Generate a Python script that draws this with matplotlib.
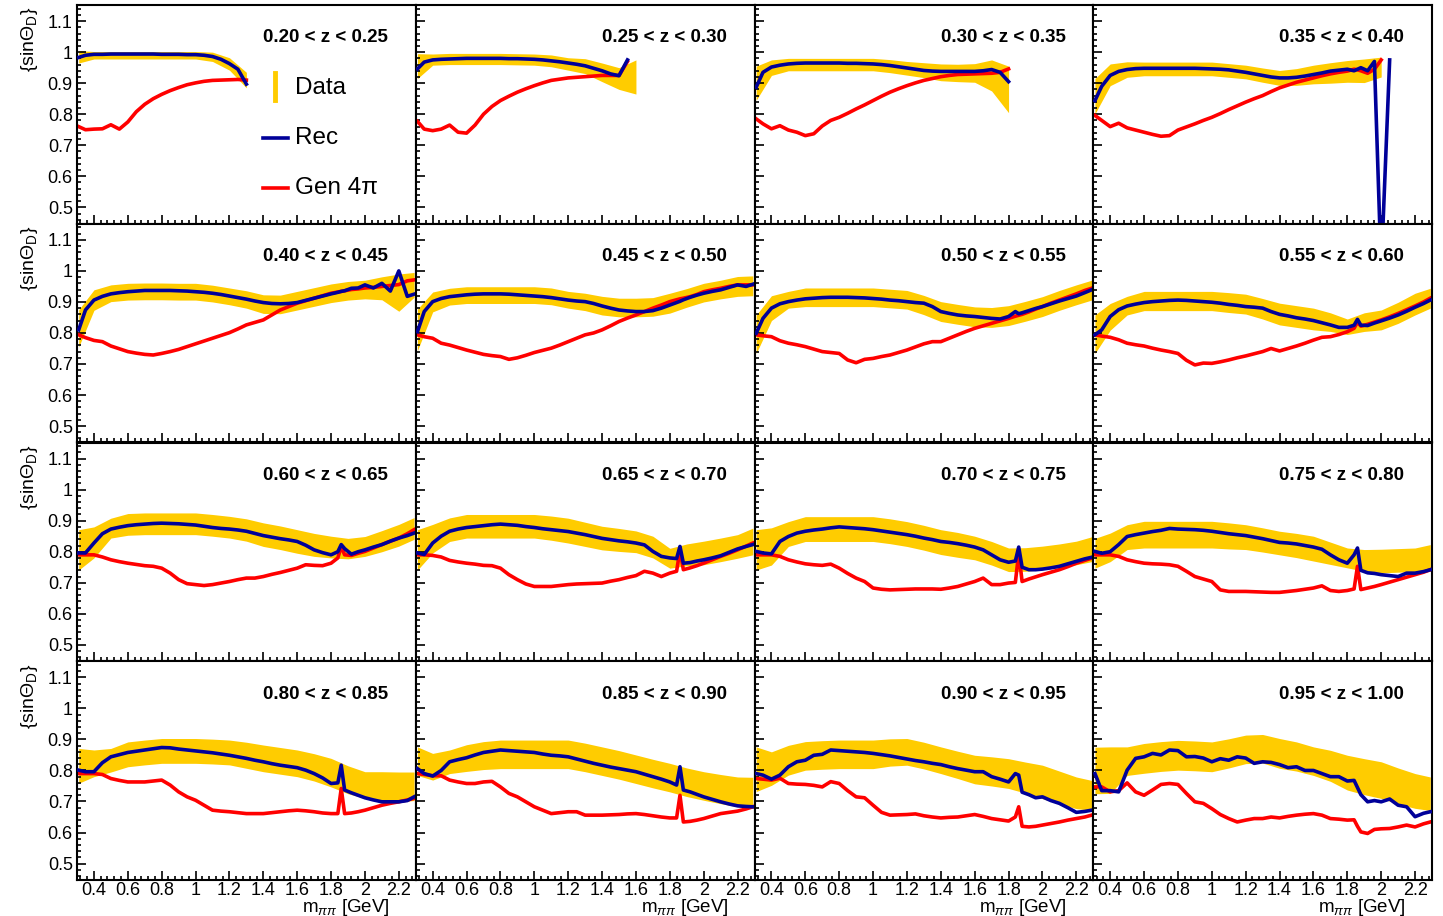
import matplotlib
import matplotlib.pyplot as plt
from matplotlib.ticker import FixedLocator, MultipleLocator, FuncFormatter

matplotlib.use('Agg')

nan = float('nan')

# z bin edges, one panel per bin
Z_EDGES = [0.20, 0.25, 0.30, 0.35, 0.40, 0.45, 0.50, 0.55, 0.60,
           0.65, 0.70, 0.75, 0.80, 0.85, 0.90, 0.95, 1.00]

# m_pipi points for the MC curves (GeV)
MASS = [0.31, 0.35, 0.40, 0.45, 0.50, 0.55, 0.60, 0.65, 0.70, 0.75, 0.80,
        0.85, 0.90, 0.95, 1.00, 1.05, 1.10, 1.15, 1.20, 1.25, 1.30, 1.35,
        1.40, 1.45, 1.50, 1.55, 1.60, 1.65, 1.70, 1.75, 1.80, 1.84, 1.86,
        1.88, 1.92, 1.96, 2.00, 2.05, 2.10, 2.15, 2.20, 2.25, 2.29]

# m_pipi points for the data band (GeV)
BAND_MASS = [0.31, 0.4, 0.5, 0.6, 0.7, 0.8, 0.9, 1.0, 1.1, 1.2, 1.3, 1.4,
             1.5, 1.6, 1.7, 1.8, 1.9, 2.0, 2.1, 2.2, 2.29]

# <sin theta_D> reconstructed MC, one row per z bin
REC = [
  [0.983, 0.990, 0.993, 0.993, 0.994, 0.994, 0.994, 0.994, 0.994, 0.994, 0.993, 0.993, 0.993, 0.992, 0.992, 0.990,
   0.986, 0.977, 0.963, 0.945, 0.897] + [nan] * 22,
  [0.946, 0.968, 0.975, 0.977, 0.978, 0.979, 0.980, 0.980, 0.980, 0.980, 0.980, 0.979, 0.979, 0.978, 0.977, 0.975,
   0.972, 0.969, 0.965, 0.961, 0.956, 0.948, 0.940, 0.930, 0.924, 0.975] + [nan] * 17,
  [0.887, 0.935, 0.952, 0.958, 0.962, 0.964, 0.965, 0.965, 0.965, 0.965, 0.965, 0.964, 0.964, 0.963, 0.962, 0.960,
   0.957, 0.953, 0.949, 0.945, 0.941, 0.939, 0.938, 0.938, 0.938, 0.938, 0.938, 0.940, 0.944, 0.935, 0.905] + [nan] * 12,
  [0.844, 0.890, 0.925, 0.938, 0.944, 0.947, 0.948, 0.948, 0.948, 0.948, 0.948, 0.948, 0.948, 0.947, 0.946, 0.945,
   0.943, 0.939, 0.935, 0.930, 0.925, 0.920, 0.917, 0.917, 0.919, 0.923, 0.928, 0.933, 0.939, 0.942, 0.945, 0.940,
   0.945, 0.950, 0.940, 0.970, 0.300, 0.975] + [nan] * 5,
  [0.810, 0.874, 0.906, 0.918, 0.926, 0.930, 0.933, 0.935, 0.937, 0.937, 0.937, 0.937, 0.936, 0.935, 0.933, 0.931,
   0.928, 0.924, 0.919, 0.914, 0.909, 0.903, 0.898, 0.895, 0.894, 0.895, 0.898, 0.905, 0.912, 0.919, 0.926, 0.931,
   0.934, 0.936, 0.944, 0.945, 0.955, 0.945, 0.960, 0.935, 1.000, 0.918, 0.925],
  [0.804, 0.869, 0.901, 0.911, 0.917, 0.920, 0.923, 0.925, 0.926, 0.926, 0.926, 0.925, 0.923, 0.921, 0.919, 0.917,
   0.914, 0.910, 0.906, 0.903, 0.901, 0.895, 0.887, 0.880, 0.874, 0.871, 0.869, 0.869, 0.872, 0.880, 0.890, 0.898,
   0.902, 0.907, 0.915, 0.922, 0.928, 0.934, 0.939, 0.947, 0.955, 0.950, 0.957],
  [0.799, 0.847, 0.880, 0.894, 0.901, 0.906, 0.910, 0.912, 0.914, 0.915, 0.915, 0.915, 0.914, 0.913, 0.911, 0.909,
   0.906, 0.904, 0.901, 0.898, 0.896, 0.885, 0.869, 0.863, 0.858, 0.855, 0.853, 0.850, 0.847, 0.845, 0.853, 0.869,
   0.862, 0.865, 0.872, 0.879, 0.885, 0.894, 0.903, 0.911, 0.919, 0.930, 0.939],
  [0.794, 0.810, 0.853, 0.875, 0.887, 0.893, 0.898, 0.901, 0.903, 0.905, 0.906, 0.905, 0.903, 0.901, 0.899, 0.896,
   0.892, 0.889, 0.885, 0.883, 0.880, 0.869, 0.860, 0.855, 0.849, 0.845, 0.840, 0.833, 0.826, 0.818, 0.818, 0.825,
   0.844, 0.825, 0.824, 0.832, 0.839, 0.848, 0.858, 0.870, 0.883, 0.895, 0.906],
  [0.796, 0.796, 0.828, 0.858, 0.873, 0.879, 0.884, 0.887, 0.889, 0.891, 0.892, 0.891, 0.890, 0.888, 0.886, 0.882,
   0.878, 0.875, 0.873, 0.870, 0.866, 0.859, 0.852, 0.847, 0.842, 0.838, 0.833, 0.821, 0.806, 0.797, 0.790, 0.800,
   0.823, 0.810, 0.792, 0.800, 0.806, 0.815, 0.823, 0.834, 0.844, 0.852, 0.860],
  [0.796, 0.791, 0.828, 0.850, 0.866, 0.873, 0.878, 0.881, 0.884, 0.887, 0.889, 0.887, 0.885, 0.881, 0.878, 0.874,
   0.871, 0.868, 0.865, 0.860, 0.855, 0.849, 0.843, 0.839, 0.835, 0.832, 0.828, 0.822, 0.801, 0.785, 0.780, 0.778,
   0.817, 0.763, 0.765, 0.770, 0.774, 0.780, 0.787, 0.798, 0.809, 0.817, 0.823],
  [0.801, 0.796, 0.793, 0.833, 0.849, 0.860, 0.866, 0.870, 0.873, 0.877, 0.880, 0.878, 0.876, 0.874, 0.871, 0.867,
   0.863, 0.859, 0.855, 0.850, 0.844, 0.839, 0.833, 0.830, 0.826, 0.821, 0.815, 0.806, 0.790, 0.774, 0.766, 0.770,
   0.815, 0.750, 0.742, 0.742, 0.744, 0.748, 0.753, 0.761, 0.769, 0.777, 0.782],
  [0.801, 0.795, 0.800, 0.823, 0.849, 0.855, 0.860, 0.865, 0.869, 0.875, 0.873, 0.872, 0.871, 0.869, 0.866, 0.862,
   0.858, 0.855, 0.852, 0.847, 0.842, 0.836, 0.830, 0.828, 0.825, 0.820, 0.815, 0.808, 0.790, 0.774, 0.763, 0.790,
   0.812, 0.740, 0.732, 0.730, 0.726, 0.723, 0.720, 0.731, 0.731, 0.736, 0.742],
  [0.801, 0.796, 0.796, 0.825, 0.844, 0.851, 0.858, 0.862, 0.866, 0.870, 0.874, 0.873, 0.869, 0.866, 0.863, 0.860,
   0.857, 0.853, 0.849, 0.844, 0.839, 0.833, 0.828, 0.822, 0.817, 0.813, 0.809, 0.801, 0.790, 0.776, 0.758, 0.760,
   0.817, 0.737, 0.728, 0.720, 0.712, 0.705, 0.699, 0.699, 0.699, 0.703, 0.715],
  [0.806, 0.790, 0.782, 0.800, 0.828, 0.835, 0.841, 0.850, 0.858, 0.862, 0.866, 0.864, 0.862, 0.860, 0.858, 0.853,
   0.849, 0.847, 0.844, 0.837, 0.830, 0.823, 0.817, 0.811, 0.806, 0.801, 0.796, 0.788, 0.780, 0.772, 0.763, 0.753,
   0.812, 0.737, 0.731, 0.723, 0.715, 0.707, 0.699, 0.692, 0.686, 0.684, 0.683],
  [0.790, 0.785, 0.772, 0.785, 0.812, 0.828, 0.833, 0.849, 0.852, 0.866, 0.864, 0.862, 0.860, 0.858, 0.855, 0.851,
   0.847, 0.842, 0.837, 0.832, 0.828, 0.823, 0.819, 0.812, 0.806, 0.801, 0.796, 0.796, 0.780, 0.772, 0.763, 0.790,
   0.785, 0.730, 0.722, 0.712, 0.715, 0.703, 0.694, 0.680, 0.665, 0.668, 0.672],
  [0.790, 0.735, 0.735, 0.731, 0.801, 0.839, 0.844, 0.855, 0.850, 0.866, 0.864, 0.844, 0.845, 0.840, 0.828, 0.838,
   0.833, 0.844, 0.840, 0.823, 0.828, 0.826, 0.819, 0.809, 0.812, 0.800, 0.800, 0.790, 0.780, 0.780, 0.766, 0.768,
   0.745, 0.722, 0.699, 0.703, 0.699, 0.708, 0.688, 0.683, 0.651, 0.662, 0.667],
]

# <sin theta_D> generated MC in 4pi, one row per z bin
GEN = [
  [0.760, 0.750, 0.752, 0.753, 0.766, 0.752, 0.775, 0.808, 0.832, 0.850, 0.864, 0.876, 0.886, 0.895, 0.901, 0.906,
   0.909, 0.910, 0.911, 0.912, 0.910] + [nan] * 22,
  [0.777, 0.752, 0.747, 0.752, 0.765, 0.742, 0.739, 0.765, 0.800, 0.825, 0.844, 0.858, 0.871, 0.882, 0.892, 0.901,
   0.909, 0.913, 0.917, 0.919, 0.921, 0.923, 0.925, 0.925, 0.925, 0.970] + [nan] * 17,
  [0.785, 0.769, 0.753, 0.763, 0.749, 0.742, 0.731, 0.737, 0.762, 0.780, 0.790, 0.803, 0.817, 0.830, 0.844, 0.858,
   0.871, 0.882, 0.892, 0.901, 0.909, 0.915, 0.921, 0.925, 0.928, 0.929, 0.930, 0.931, 0.932, 0.935, 0.946] + [nan] * 12,
  [0.796, 0.780, 0.760, 0.771, 0.756, 0.749, 0.742, 0.735, 0.729, 0.731, 0.749, 0.759, 0.769, 0.780, 0.790, 0.802,
   0.815, 0.827, 0.839, 0.850, 0.860, 0.873, 0.885, 0.894, 0.903, 0.910, 0.917, 0.924, 0.930, 0.935, 0.939, 0.945,
   0.943, 0.940, 0.932, 0.945, 0.975] + [nan] * 6,
  [0.794, 0.785, 0.776, 0.772, 0.758, 0.749, 0.740, 0.735, 0.731, 0.729, 0.734, 0.740, 0.747, 0.756, 0.765, 0.774,
   0.783, 0.792, 0.801, 0.813, 0.826, 0.834, 0.842, 0.858, 0.874, 0.885, 0.896, 0.904, 0.912, 0.920, 0.928, 0.932,
   0.934, 0.936, 0.940, 0.942, 0.945, 0.947, 0.950, 0.953, 0.956, 0.968, 0.971],
  [0.794, 0.788, 0.783, 0.767, 0.761, 0.753, 0.745, 0.738, 0.731, 0.727, 0.724, 0.715, 0.720, 0.728, 0.737, 0.744,
   0.751, 0.761, 0.772, 0.783, 0.794, 0.800, 0.810, 0.823, 0.837, 0.848, 0.858, 0.869, 0.880, 0.890, 0.901, 0.907,
   0.910, 0.912, 0.917, 0.924, 0.933, 0.939, 0.944, 0.950, 0.955, 0.955, 0.955],
  [0.794, 0.791, 0.788, 0.775, 0.767, 0.762, 0.756, 0.748, 0.740, 0.737, 0.734, 0.713, 0.704, 0.715, 0.718, 0.724,
   0.729, 0.737, 0.745, 0.755, 0.765, 0.772, 0.772, 0.783, 0.794, 0.805, 0.815, 0.823, 0.831, 0.839, 0.847, 0.854,
   0.857, 0.860, 0.868, 0.877, 0.885, 0.896, 0.906, 0.916, 0.926, 0.937, 0.944],
  [0.794, 0.790, 0.786, 0.778, 0.767, 0.762, 0.758, 0.751, 0.745, 0.740, 0.734, 0.712, 0.697, 0.703, 0.702, 0.707,
   0.713, 0.720, 0.726, 0.733, 0.740, 0.750, 0.742, 0.750, 0.758, 0.767, 0.777, 0.786, 0.788, 0.795, 0.804, 0.815,
   0.835, 0.822, 0.828, 0.835, 0.842, 0.852, 0.863, 0.875, 0.887, 0.900, 0.912],
  [0.790, 0.790, 0.790, 0.783, 0.774, 0.768, 0.763, 0.759, 0.755, 0.753, 0.747, 0.731, 0.710, 0.697, 0.694, 0.691,
   0.694, 0.699, 0.704, 0.710, 0.715, 0.715, 0.720, 0.727, 0.733, 0.740, 0.747, 0.758, 0.756, 0.755, 0.763, 0.780,
   0.817, 0.790, 0.788, 0.795, 0.801, 0.812, 0.823, 0.834, 0.844, 0.858, 0.871],
  [0.790, 0.790, 0.788, 0.783, 0.772, 0.767, 0.763, 0.760, 0.756, 0.755, 0.747, 0.726, 0.710, 0.696, 0.688, 0.688,
   0.688, 0.691, 0.694, 0.696, 0.697, 0.698, 0.699, 0.705, 0.710, 0.717, 0.723, 0.737, 0.731, 0.720, 0.731, 0.737,
   0.806, 0.742, 0.748, 0.755, 0.763, 0.774, 0.785, 0.795, 0.806, 0.818, 0.828],
  [0.790, 0.790, 0.790, 0.785, 0.774, 0.767, 0.761, 0.758, 0.756, 0.760, 0.747, 0.730, 0.715, 0.704, 0.683, 0.679,
   0.677, 0.678, 0.679, 0.680, 0.680, 0.680, 0.679, 0.683, 0.688, 0.696, 0.704, 0.715, 0.694, 0.694, 0.699, 0.701,
   0.796, 0.704, 0.712, 0.719, 0.726, 0.734, 0.742, 0.752, 0.763, 0.772, 0.779],
  [0.790, 0.790, 0.790, 0.785, 0.774, 0.768, 0.763, 0.761, 0.760, 0.758, 0.753, 0.737, 0.720, 0.712, 0.704, 0.677,
   0.672, 0.672, 0.672, 0.671, 0.670, 0.669, 0.669, 0.672, 0.675, 0.679, 0.683, 0.690, 0.675, 0.672, 0.675, 0.680,
   0.753, 0.678, 0.683, 0.688, 0.694, 0.702, 0.710, 0.718, 0.726, 0.734, 0.742],
  [0.790, 0.790, 0.790, 0.787, 0.774, 0.768, 0.763, 0.763, 0.763, 0.766, 0.769, 0.753, 0.731, 0.715, 0.704, 0.688,
   0.672, 0.669, 0.667, 0.664, 0.661, 0.661, 0.661, 0.664, 0.667, 0.670, 0.672, 0.670, 0.667, 0.663, 0.661, 0.661,
   0.742, 0.661, 0.663, 0.667, 0.672, 0.680, 0.688, 0.694, 0.699, 0.705, 0.710],
  [0.790, 0.787, 0.783, 0.783, 0.769, 0.763, 0.758, 0.758, 0.763, 0.765, 0.747, 0.726, 0.715, 0.699, 0.683, 0.672,
   0.661, 0.664, 0.667, 0.667, 0.656, 0.656, 0.656, 0.657, 0.658, 0.660, 0.661, 0.658, 0.654, 0.650, 0.647, 0.647,
   0.720, 0.634, 0.636, 0.640, 0.645, 0.653, 0.661, 0.665, 0.669, 0.676, 0.683],
  [0.774, 0.772, 0.769, 0.775, 0.758, 0.756, 0.755, 0.752, 0.747, 0.764, 0.758, 0.735, 0.715, 0.712, 0.688, 0.665,
   0.656, 0.657, 0.658, 0.660, 0.654, 0.650, 0.647, 0.649, 0.650, 0.654, 0.658, 0.652, 0.645, 0.641, 0.637, 0.650,
   0.683, 0.620, 0.618, 0.620, 0.624, 0.629, 0.634, 0.640, 0.645, 0.650, 0.656],
  [0.747, 0.747, 0.731, 0.735, 0.760, 0.731, 0.720, 0.737, 0.755, 0.758, 0.755, 0.726, 0.699, 0.694, 0.677, 0.658,
   0.645, 0.634, 0.640, 0.645, 0.645, 0.650, 0.647, 0.652, 0.656, 0.659, 0.661, 0.656, 0.645, 0.643, 0.640, 0.641,
   0.620, 0.602, 0.597, 0.610, 0.612, 0.613, 0.618, 0.624, 0.618, 0.628, 0.634],
]

# data: central value and error, one row per z bin
DATA = [
  [0.985, 0.990, 0.990, 0.990, 0.990, 0.990, 0.990, 0.990, 0.985, 0.962, 0.910] + [nan] * 10,
  [0.955, 0.976, 0.978, 0.978, 0.978, 0.978, 0.977, 0.976, 0.972, 0.962, 0.955, 0.935, 0.915, 0.920] + [nan] * 7,
  [0.900, 0.950, 0.960, 0.960, 0.960, 0.960, 0.960, 0.960, 0.955, 0.948, 0.942, 0.935, 0.933, 0.933, 0.925,
   0.880] + [nan] * 5,
  [0.858, 0.927, 0.944, 0.946, 0.946, 0.946, 0.946, 0.946, 0.941, 0.936, 0.926, 0.917, 0.920, 0.928, 0.933,
   0.938, 0.940, 0.952, nan, nan, nan],
  [0.815, 0.906, 0.928, 0.933, 0.934, 0.934, 0.933, 0.933, 0.927, 0.918, 0.908, 0.893, 0.892, 0.904, 0.916,
   0.928, 0.936, 0.940, 0.944, 0.930, 0.955],
  [0.810, 0.900, 0.917, 0.922, 0.922, 0.922, 0.922, 0.922, 0.918, 0.907, 0.900, 0.888, 0.882, 0.882, 0.884,
   0.896, 0.913, 0.930, 0.940, 0.950, 0.952],
  [0.796, 0.880, 0.907, 0.915, 0.915, 0.915, 0.915, 0.915, 0.911, 0.907, 0.890, 0.869, 0.860, 0.852, 0.850,
   0.856, 0.870, 0.885, 0.905, 0.923, 0.938],
  [0.796, 0.852, 0.888, 0.903, 0.903, 0.903, 0.903, 0.903, 0.898, 0.893, 0.878, 0.861, 0.853, 0.845, 0.835,
   0.820, 0.835, 0.842, 0.865, 0.893, 0.912],
  [0.806, 0.830, 0.876, 0.888, 0.890, 0.890, 0.890, 0.890, 0.885, 0.879, 0.870, 0.855, 0.845, 0.833, 0.822,
   0.815, 0.810, 0.817, 0.834, 0.853, 0.875],
  [0.806, 0.842, 0.871, 0.882, 0.882, 0.882, 0.882, 0.882, 0.876, 0.868, 0.856, 0.844, 0.838, 0.832, 0.815,
   0.779, 0.790, 0.796, 0.806, 0.817, 0.833],
  [0.806, 0.817, 0.857, 0.873, 0.873, 0.873, 0.873, 0.873, 0.866, 0.857, 0.845, 0.831, 0.822, 0.812, 0.795,
   0.774, 0.775, 0.780, 0.787, 0.796, 0.808],
  [0.795, 0.814, 0.847, 0.855, 0.855, 0.855, 0.855, 0.855, 0.851, 0.847, 0.838, 0.828, 0.820, 0.810, 0.795,
   0.780, 0.772, 0.770, 0.772, 0.774, 0.780],
  [0.815, 0.823, 0.833, 0.852, 0.858, 0.863, 0.863, 0.863, 0.861, 0.858, 0.849, 0.839, 0.831, 0.823, 0.810,
   0.793, 0.770, 0.753, 0.750, 0.747, 0.749],
  [0.830, 0.812, 0.828, 0.840, 0.848, 0.852, 0.852, 0.852, 0.852, 0.852, 0.842, 0.830, 0.818, 0.804, 0.790,
   0.777, 0.762, 0.750, 0.740, 0.731, 0.728],
  [0.804, 0.806, 0.833, 0.847, 0.850, 0.852, 0.852, 0.852, 0.858, 0.860, 0.848, 0.833, 0.818, 0.803, 0.797,
   0.790, 0.777, 0.763, 0.745, 0.728, 0.720],
  [0.800, 0.801, 0.830, 0.839, 0.845, 0.849, 0.847, 0.844, 0.855, 0.868, 0.870, 0.855, 0.845, 0.830, 0.815,
   0.793, 0.780, 0.769, 0.750, 0.734, 0.725],
]

DATA_ERR = [
  [0.020, 0.012, 0.012, 0.012, 0.012, 0.012, 0.012, 0.012, 0.015, 0.020, 0.025] + [nan] * 10,
  [0.040, 0.018, 0.018, 0.018, 0.018, 0.018, 0.018, 0.018, 0.019, 0.020, 0.024, 0.030, 0.035, 0.055] + [nan] * 7,
  [0.055, 0.025, 0.020, 0.020, 0.020, 0.020, 0.020, 0.020, 0.021, 0.022, 0.024, 0.027, 0.028, 0.030, 0.050,
   0.075] + [nan] * 5,
  [0.057, 0.035, 0.025, 0.022, 0.022, 0.022, 0.022, 0.022, 0.022, 0.022, 0.023, 0.024, 0.027, 0.030, 0.033,
   0.035, 0.038, 0.032, nan, nan, nan],
  [0.060, 0.033, 0.027, 0.027, 0.027, 0.027, 0.027, 0.027, 0.027, 0.027, 0.028, 0.030, 0.030, 0.030, 0.030,
   0.030, 0.030, 0.030, 0.037, 0.060, 0.040],
  [0.067, 0.032, 0.027, 0.027, 0.027, 0.027, 0.027, 0.027, 0.027, 0.027, 0.028, 0.030, 0.030, 0.030, 0.030,
   0.032, 0.030, 0.030, 0.030, 0.032, 0.032],
  [0.062, 0.040, 0.027, 0.030, 0.030, 0.030, 0.030, 0.030, 0.030, 0.030, 0.031, 0.032, 0.032, 0.032, 0.032,
   0.032, 0.032, 0.032, 0.032, 0.032, 0.032],
  [0.062, 0.043, 0.030, 0.031, 0.031, 0.031, 0.031, 0.031, 0.032, 0.032, 0.033, 0.035, 0.035, 0.035, 0.030,
   0.025, 0.030, 0.032, 0.034, 0.035, 0.032],
  [0.065, 0.050, 0.032, 0.035, 0.035, 0.035, 0.035, 0.035, 0.035, 0.035, 0.036, 0.038, 0.038, 0.038, 0.037,
   0.035, 0.033, 0.032, 0.034, 0.035, 0.035],
  [0.065, 0.046, 0.038, 0.038, 0.038, 0.038, 0.038, 0.038, 0.039, 0.040, 0.039, 0.038, 0.037, 0.035, 0.035,
   0.032, 0.035, 0.038, 0.038, 0.038, 0.043],
  [0.065, 0.060, 0.040, 0.040, 0.040, 0.040, 0.040, 0.040, 0.040, 0.040, 0.040, 0.040, 0.040, 0.038, 0.038,
   0.038, 0.038, 0.038, 0.038, 0.038, 0.040],
  [0.048, 0.046, 0.040, 0.043, 0.043, 0.043, 0.043, 0.043, 0.042, 0.040, 0.039, 0.038, 0.039, 0.040, 0.036,
   0.032, 0.035, 0.038, 0.038, 0.038, 0.043],
  [0.056, 0.043, 0.038, 0.040, 0.040, 0.040, 0.040, 0.040, 0.040, 0.040, 0.042, 0.043, 0.043, 0.043, 0.044,
   0.046, 0.045, 0.043, 0.046, 0.048, 0.046],
  [0.046, 0.043, 0.038, 0.043, 0.045, 0.046, 0.046, 0.046, 0.046, 0.046, 0.046, 0.046, 0.046, 0.046, 0.046,
   0.046, 0.046, 0.046, 0.047, 0.048, 0.050],
  [0.072, 0.054, 0.048, 0.046, 0.046, 0.046, 0.046, 0.046, 0.044, 0.043, 0.043, 0.043, 0.044, 0.046, 0.047,
   0.048, 0.050, 0.054, 0.053, 0.051, 0.048],
  [0.075, 0.075, 0.046, 0.048, 0.048, 0.048, 0.048, 0.048, 0.047, 0.046, 0.046, 0.048, 0.047, 0.046, 0.050,
   0.056, 0.058, 0.059, 0.058, 0.056, 0.054],
]

YELLOW = '#ffcc00'
BLUE = '#000099'
RED = '#ff0000'

plt.rcParams['font.family'] = ['Liberation Sans', 'DejaVu Sans']
plt.rcParams['mathtext.fontset'] = 'custom'
plt.rcParams['mathtext.rm'] = 'Liberation Sans'
plt.rcParams['mathtext.it'] = 'Liberation Sans:italic'

fig = plt.figure(figsize=(14.43, 9.16), dpi=100)
gs = fig.add_gridspec(4, 4, left=77 / 1443, right=1432 / 1443,
                      top=1 - 5 / 916, bottom=1 - 880 / 916,
                      hspace=0, wspace=0)

fmt = FuncFormatter(lambda v, pos: '{:g}'.format(round(v, 2)))

for i in range(16):
  row, col = divmod(i, 4)
  ax = fig.add_subplot(gs[row, col])

  lo = [c - e for c, e in zip(DATA[i], DATA_ERR[i])]
  hi = [c + e for c, e in zip(DATA[i], DATA_ERR[i])]
  ax.fill_between(BAND_MASS, lo, hi, color=YELLOW, lw=0, zorder=1)
  ax.plot(MASS, GEN[i], color=RED, lw=2.6, zorder=2)
  ax.plot(MASS, REC[i], color=BLUE, lw=2.6, zorder=3)

  ax.set_xlim(0.3, 2.3)
  ax.set_ylim(0.447, 1.152)

  ax.xaxis.set_major_locator(FixedLocator([0.4, 0.6, 0.8, 1.0, 1.2, 1.4, 1.6, 1.8, 2.0, 2.2]))
  ax.xaxis.set_minor_locator(MultipleLocator(0.04))
  ax.yaxis.set_major_locator(FixedLocator([0.5, 0.6, 0.7, 0.8, 0.9, 1.0, 1.1]))
  ax.yaxis.set_minor_locator(MultipleLocator(0.02))
  ax.xaxis.set_major_formatter(fmt)
  ax.yaxis.set_major_formatter(fmt)
  ax.tick_params(which='both', direction='in', top=False, right=False,
                 labelsize=13, width=1.2)
  ax.tick_params(axis='y', pad=3)
  ax.tick_params(axis='x', pad=1.5)
  ax.tick_params(which='major', length=6.5)
  ax.tick_params(which='minor', length=3)
  ax.tick_params(labelleft=(col == 0), labelbottom=(row == 3))
  for s in ax.spines.values():
    s.set_linewidth(1.5)

  ax.text(0.918, 0.85, '{:.2f} < z < {:.2f}'.format(Z_EDGES[i], Z_EDGES[i + 1]),
          transform=ax.transAxes, ha='right', va='center',
          fontsize=13.5, fontweight='bold')

  if col == 0:
    ax.text(-0.14, 0.99, '{sin\u0398$_{\\mathregular{D}}$}', rotation=90,
            transform=ax.transAxes, ha='center', va='top', fontsize=14)
  if row == 3:
    ax.text(0.923, -0.125, 'm$_{\\pi\\pi}$ [GeV]', transform=ax.transAxes,
            ha='right', va='center', fontsize=13.5)

  if i == 0:
    tr = ax.transAxes
    ax.plot([0.584, 0.584], [0.566, 0.69], transform=tr, color=YELLOW, lw=3.5)
    ax.plot([0.549, 0.622], [0.393, 0.393], transform=tr, color=BLUE, lw=2.6)
    ax.plot([0.549, 0.622], [0.164, 0.164], transform=tr, color=RED, lw=2.6)
    ax.text(0.643, 0.621, 'Data', transform=tr, va='center', fontsize=17.5)
    ax.text(0.643, 0.393, 'Rec', transform=tr, va='center', fontsize=17.5)
    ax.text(0.643, 0.164, 'Gen 4\u03c0', transform=tr, va='center', fontsize=17.5)

plt.savefig('out.png', dpi=100)
